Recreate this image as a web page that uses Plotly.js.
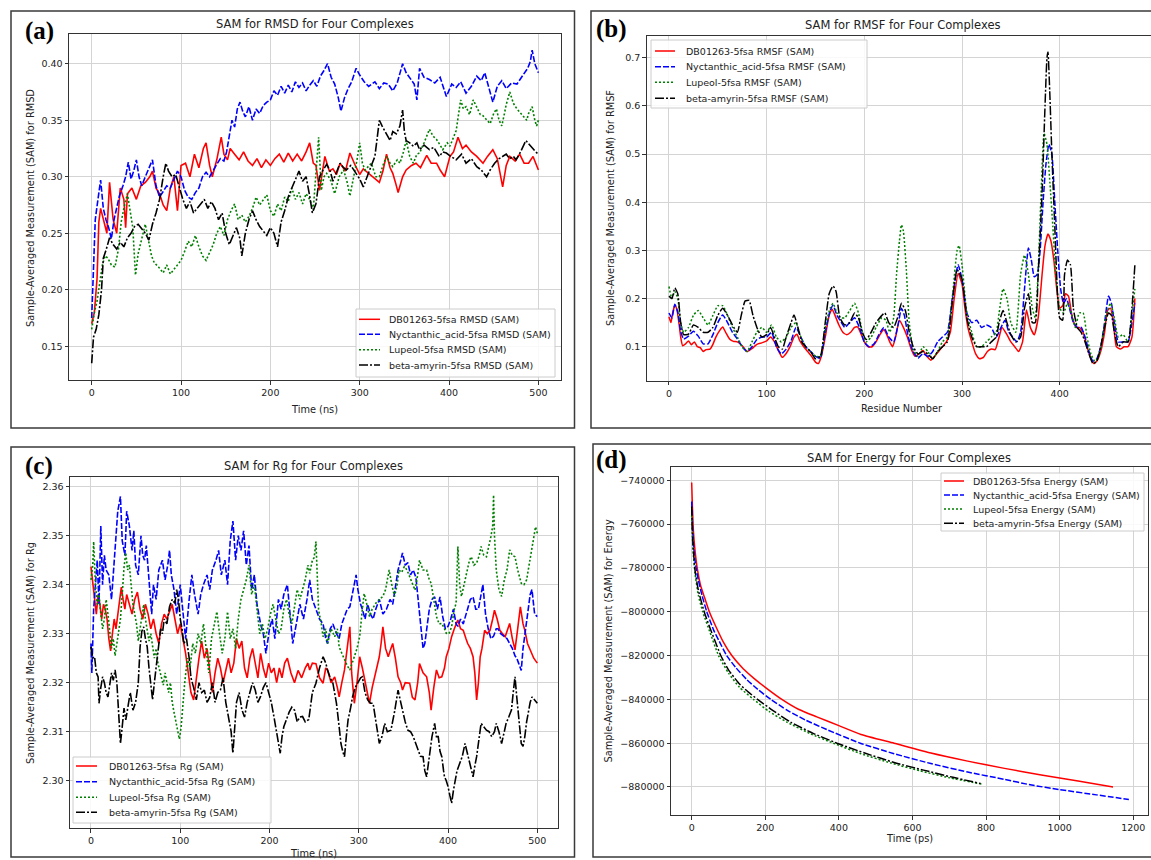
<!DOCTYPE html>
<html><head><meta charset="utf-8">
<script src="https://cdn.plot.ly/plotly-3.0.1.min.js"></script>
<style>html,body{margin:0;padding:0;background:#fff}#chart{width:1151px;height:860px}</style>
</head><body><div id="chart"></div>
<script>
// ---------------- DATA ----------------
const seriesNames = ['DB01263-5fsa', 'Nyctanthic_acid-5fsa', 'Lupeol-5fsa', 'beta-amyrin-5fsa'];

// (a) RMSD vs time (ns)
const rmsdDB01263 = [[0,0.170],[3,0.180],[6,0.210],[8,0.260],[10,0.272],[13,0.262],[17,0.250],[20,0.295],[24,0.262],[28,0.250],[32,0.290],[36,0.280],[38,0.255],[40,0.285],[45,0.290],[50,0.280],[55,0.292],[60,0.295],[65,0.300],[68,0.305],[72,0.290],[76,0.285],[80,0.275],[84,0.270],[88,0.290],[92,0.300],[96,0.270],[100,0.310],[105,0.312],[110,0.300],[115,0.320],[120,0.308],[125,0.325],[128,0.330],[132,0.310],[135,0.300],[140,0.315],[145,0.335],[148,0.320],[152,0.315],[155,0.325],[160,0.320],[165,0.315],[170,0.322],[175,0.314],[180,0.310],[185,0.316],[190,0.308],[195,0.315],[200,0.310],[205,0.316],[210,0.320],[215,0.313],[220,0.321],[225,0.314],[230,0.320],[235,0.314],[240,0.322],[244,0.330],[248,0.312],[251,0.310],[255,0.288],[261,0.318],[266,0.305],[270,0.307],[274,0.302],[278,0.312],[284,0.305],[289,0.321],[295,0.310],[300,0.302],[304,0.307],[310,0.303],[315,0.300],[322,0.295],[326,0.305],[330,0.320],[334,0.308],[337,0.303],[340,0.295],[343,0.286],[348,0.300],[352,0.306],[358,0.310],[363,0.312],[368,0.308],[375,0.319],[380,0.312],[386,0.312],[390,0.306],[395,0.300],[401,0.318],[405,0.322],[410,0.335],[415,0.325],[419,0.328],[425,0.322],[431,0.318],[438,0.312],[443,0.318],[449,0.324],[454,0.316],[460,0.291],[464,0.310],[468,0.318],[474,0.314],[479,0.320],[484,0.312],[489,0.312],[494,0.318],[500,0.306]];
const rmsdNyctanthic = [[0,0.175],[2,0.220],[4,0.262],[7,0.280],[10,0.297],[13,0.272],[16,0.262],[19,0.255],[22,0.245],[25,0.262],[28,0.272],[31,0.283],[35,0.292],[38,0.300],[41,0.313],[44,0.298],[47,0.305],[50,0.315],[53,0.300],[56,0.292],[60,0.300],[64,0.308],[68,0.315],[72,0.292],[76,0.282],[80,0.287],[84,0.292],[88,0.290],[92,0.297],[96,0.305],[100,0.300],[104,0.288],[108,0.282],[112,0.280],[116,0.286],[120,0.290],[124,0.300],[128,0.304],[132,0.300],[136,0.306],[140,0.311],[144,0.316],[148,0.314],[151,0.322],[154,0.337],[157,0.350],[160,0.344],[163,0.360],[166,0.366],[169,0.358],[172,0.353],[176,0.362],[180,0.350],[184,0.360],[188,0.356],[192,0.363],[196,0.366],[200,0.368],[204,0.376],[208,0.372],[212,0.380],[216,0.374],[220,0.381],[224,0.375],[228,0.384],[232,0.379],[236,0.383],[240,0.376],[244,0.381],[248,0.385],[252,0.380],[256,0.389],[260,0.394],[264,0.400],[268,0.388],[272,0.382],[276,0.370],[279,0.358],[283,0.370],[287,0.378],[291,0.384],[296,0.396],[300,0.390],[305,0.384],[310,0.380],[317,0.384],[322,0.378],[327,0.383],[332,0.382],[337,0.376],[342,0.383],[348,0.400],[352,0.392],[356,0.388],[361,0.382],[364,0.368],[367,0.396],[372,0.388],[378,0.386],[384,0.383],[390,0.388],[397,0.371],[403,0.382],[408,0.379],[413,0.384],[419,0.374],[425,0.380],[431,0.389],[436,0.385],[440,0.392],[445,0.378],[449,0.366],[454,0.380],[459,0.385],[464,0.378],[470,0.383],[476,0.382],[483,0.390],[488,0.396],[491,0.402],[493,0.412],[496,0.400],[500,0.392]];
const rmsdLupeol = [[0,0.165],[3,0.180],[6,0.190],[9,0.205],[12,0.222],[15,0.230],[18,0.228],[22,0.222],[26,0.220],[30,0.236],[33,0.260],[36,0.272],[40,0.285],[43,0.270],[46,0.255],[49,0.213],[52,0.232],[56,0.245],[60,0.258],[63,0.246],[67,0.230],[70,0.224],[75,0.220],[80,0.215],[84,0.222],[88,0.214],[92,0.218],[96,0.222],[100,0.226],[104,0.234],[108,0.243],[112,0.238],[116,0.248],[120,0.238],[124,0.230],[128,0.226],[132,0.233],[136,0.240],[140,0.250],[144,0.256],[148,0.248],[152,0.262],[156,0.270],[160,0.276],[164,0.262],[168,0.266],[172,0.260],[176,0.265],[180,0.272],[184,0.282],[188,0.275],[192,0.280],[196,0.284],[200,0.270],[204,0.265],[208,0.276],[212,0.270],[216,0.282],[220,0.278],[224,0.290],[228,0.280],[232,0.286],[236,0.276],[240,0.285],[244,0.280],[248,0.271],[251,0.305],[254,0.335],[257,0.288],[260,0.300],[263,0.303],[268,0.296],[272,0.285],[277,0.300],[282,0.306],[286,0.295],[289,0.283],[293,0.298],[297,0.315],[300,0.330],[303,0.312],[306,0.306],[310,0.310],[313,0.312],[318,0.300],[322,0.300],[326,0.310],[330,0.318],[334,0.312],[337,0.309],[342,0.315],[345,0.312],[349,0.322],[352,0.332],[356,0.318],[360,0.312],[364,0.320],[367,0.321],[372,0.330],[378,0.342],[382,0.336],[386,0.333],[390,0.328],[393,0.324],[398,0.330],[401,0.327],[405,0.335],[408,0.341],[413,0.368],[416,0.360],[419,0.362],[423,0.355],[427,0.368],[432,0.360],[435,0.355],[438,0.354],[442,0.350],[446,0.347],[450,0.356],[453,0.360],[456,0.350],[459,0.345],[462,0.356],[464,0.364],[468,0.375],[472,0.365],[476,0.360],[480,0.356],[483,0.353],[487,0.350],[489,0.356],[493,0.362],[496,0.350],[498,0.345],[500,0.350]];
const rmsdBetaAmyrin = [[0,0.135],[2,0.158],[5,0.165],[8,0.178],[11,0.200],[13,0.228],[16,0.235],[20,0.246],[24,0.240],[28,0.236],[32,0.242],[36,0.238],[40,0.246],[44,0.250],[48,0.256],[52,0.258],[56,0.254],[60,0.250],[64,0.244],[68,0.258],[72,0.268],[76,0.280],[80,0.300],[83,0.312],[86,0.305],[90,0.300],[94,0.302],[98,0.290],[102,0.280],[106,0.272],[110,0.278],[114,0.268],[118,0.272],[122,0.276],[126,0.280],[130,0.272],[134,0.278],[138,0.272],[142,0.262],[146,0.268],[150,0.250],[154,0.240],[158,0.248],[162,0.255],[166,0.245],[168,0.230],[172,0.250],[176,0.262],[180,0.270],[184,0.262],[188,0.256],[192,0.252],[196,0.248],[200,0.255],[204,0.250],[208,0.238],[212,0.260],[216,0.270],[220,0.282],[224,0.290],[228,0.298],[232,0.305],[236,0.296],[240,0.300],[244,0.283],[247,0.268],[251,0.276],[255,0.300],[259,0.306],[263,0.311],[267,0.305],[270,0.296],[274,0.304],[278,0.312],[282,0.308],[285,0.306],[290,0.310],[296,0.303],[300,0.298],[304,0.291],[308,0.300],[311,0.306],[314,0.312],[317,0.318],[320,0.340],[322,0.350],[325,0.345],[328,0.341],[331,0.336],[334,0.332],[337,0.340],[341,0.338],[345,0.345],[348,0.359],[350,0.340],[352,0.332],[356,0.330],[360,0.327],[364,0.330],[367,0.324],[372,0.328],[378,0.324],[383,0.326],[389,0.318],[393,0.322],[397,0.321],[402,0.318],[408,0.315],[414,0.320],[419,0.312],[425,0.316],[431,0.309],[436,0.306],[442,0.300],[446,0.306],[451,0.312],[456,0.316],[460,0.318],[464,0.320],[468,0.316],[472,0.318],[475,0.315],[480,0.322],[486,0.332],[490,0.328],[494,0.325],[497,0.322],[500,0.320]];

// (b) RMSF vs residue number
const rmsfDB01263 = [[0,0.162],[2,0.150],[4,0.172],[6,0.186],[8,0.178],[10,0.152],[12,0.120],[14,0.102],[17,0.106],[20,0.112],[23,0.104],[26,0.110],[29,0.100],[32,0.098],[35,0.090],[38,0.094],[42,0.095],[45,0.105],[48,0.120],[52,0.134],[55,0.141],[58,0.130],[62,0.116],[66,0.111],[70,0.110],[75,0.102],[80,0.090],[85,0.096],[90,0.105],[95,0.108],[100,0.112],[104,0.120],[108,0.110],[112,0.092],[116,0.078],[120,0.086],[124,0.100],[128,0.120],[131,0.126],[134,0.112],[138,0.100],[142,0.090],[146,0.080],[150,0.068],[153,0.065],[156,0.080],[160,0.120],[164,0.165],[167,0.178],[170,0.165],[174,0.145],[178,0.130],[182,0.125],[186,0.130],[190,0.140],[193,0.141],[197,0.125],[200,0.110],[204,0.100],[208,0.100],[212,0.110],[216,0.125],[220,0.135],[223,0.125],[226,0.110],[229,0.100],[232,0.120],[236,0.155],[240,0.140],[244,0.120],[248,0.095],[252,0.080],[256,0.085],[260,0.092],[264,0.080],[268,0.072],[272,0.080],[276,0.090],[280,0.100],[284,0.110],[288,0.130],[292,0.200],[296,0.252],[300,0.230],[303,0.180],[306,0.140],[310,0.110],[314,0.085],[318,0.075],[322,0.078],[326,0.090],[330,0.095],[334,0.094],[338,0.120],[341,0.140],[346,0.125],[350,0.110],[354,0.100],[358,0.090],[362,0.110],[366,0.176],[370,0.140],[374,0.125],[378,0.160],[382,0.250],[385,0.310],[388,0.334],[391,0.320],[394,0.280],[397,0.220],[400,0.180],[403,0.185],[406,0.210],[409,0.205],[413,0.160],[417,0.140],[420,0.140],[424,0.130],[428,0.100],[432,0.075],[435,0.065],[438,0.070],[442,0.090],[446,0.130],[449,0.175],[452,0.180],[455,0.150],[458,0.100],[462,0.095],[466,0.100],[470,0.100],[474,0.120],[477,0.200]];
const rmsfNyctanthic = [[0,0.170],[3,0.160],[6,0.188],[9,0.172],[12,0.132],[15,0.116],[20,0.122],[25,0.132],[30,0.122],[35,0.106],[40,0.106],[45,0.125],[50,0.150],[55,0.166],[60,0.150],[65,0.130],[70,0.116],[75,0.100],[80,0.090],[85,0.100],[90,0.115],[95,0.120],[100,0.120],[105,0.130],[110,0.100],[115,0.085],[120,0.095],[125,0.112],[130,0.140],[135,0.120],[140,0.100],[145,0.090],[150,0.080],[155,0.076],[160,0.130],[165,0.175],[168,0.186],[172,0.165],[176,0.152],[180,0.140],[185,0.150],[190,0.160],[195,0.140],[200,0.110],[205,0.100],[210,0.106],[215,0.125],[220,0.140],[225,0.120],[230,0.110],[235,0.150],[238,0.180],[241,0.165],[245,0.120],[250,0.090],[255,0.076],[260,0.086],[265,0.080],[270,0.090],[275,0.110],[280,0.120],[285,0.130],[290,0.200],[296,0.270],[300,0.240],[305,0.170],[310,0.150],[315,0.155],[320,0.140],[325,0.145],[330,0.140],[335,0.120],[340,0.140],[344,0.155],[348,0.130],[352,0.120],[356,0.110],[360,0.130],[364,0.220],[368,0.305],[371,0.280],[374,0.245],[377,0.250],[380,0.300],[383,0.400],[386,0.480],[389,0.520],[392,0.500],[395,0.400],[398,0.300],[401,0.220],[404,0.190],[407,0.200],[410,0.180],[414,0.150],[418,0.140],[422,0.140],[426,0.120],[430,0.090],[434,0.070],[438,0.075],[442,0.100],[446,0.150],[450,0.205],[453,0.190],[456,0.150],[460,0.110],[465,0.110],[470,0.110],[474,0.150],[477,0.190]];
const rmsfLupeol = [[0,0.225],[3,0.200],[6,0.215],[9,0.200],[12,0.150],[15,0.130],[20,0.140],[25,0.165],[30,0.175],[35,0.160],[40,0.145],[45,0.165],[50,0.185],[55,0.185],[60,0.165],[65,0.140],[70,0.120],[75,0.100],[80,0.090],[85,0.110],[90,0.130],[95,0.140],[100,0.130],[105,0.145],[110,0.120],[115,0.110],[120,0.120],[125,0.140],[130,0.150],[135,0.120],[140,0.100],[145,0.090],[150,0.080],[155,0.080],[160,0.140],[165,0.180],[168,0.190],[172,0.170],[176,0.160],[180,0.160],[185,0.175],[190,0.190],[194,0.170],[198,0.130],[202,0.110],[207,0.120],[212,0.140],[218,0.160],[222,0.155],[226,0.130],[230,0.160],[233,0.250],[236,0.320],[238,0.353],[240,0.340],[243,0.260],[246,0.150],[250,0.095],[255,0.080],[260,0.100],[265,0.090],[270,0.075],[275,0.090],[280,0.110],[285,0.120],[290,0.200],[295,0.300],[297,0.310],[300,0.270],[305,0.170],[310,0.130],[315,0.100],[320,0.100],[325,0.110],[330,0.120],[335,0.130],[338,0.170],[342,0.220],[346,0.200],[350,0.150],[355,0.130],[360,0.250],[364,0.290],[368,0.250],[372,0.180],[375,0.160],[378,0.260],[381,0.420],[384,0.543],[387,0.520],[390,0.440],[393,0.350],[396,0.250],[400,0.180],[404,0.170],[408,0.190],[412,0.170],[416,0.140],[420,0.170],[424,0.170],[428,0.120],[432,0.085],[436,0.070],[440,0.080],[444,0.120],[448,0.170],[452,0.190],[456,0.160],[460,0.120],[465,0.125],[470,0.110],[474,0.170],[477,0.220]];
const rmsfBetaAmyrin = [[0,0.205],[3,0.200],[6,0.222],[9,0.210],[12,0.150],[15,0.125],[20,0.126],[25,0.145],[30,0.140],[35,0.130],[40,0.130],[45,0.140],[50,0.165],[55,0.180],[60,0.165],[65,0.145],[70,0.130],[74,0.165],[78,0.195],[82,0.196],[86,0.165],[90,0.140],[95,0.120],[100,0.125],[104,0.140],[108,0.120],[112,0.100],[116,0.095],[120,0.120],[125,0.150],[128,0.166],[132,0.140],[136,0.110],[140,0.100],[145,0.090],[150,0.075],[155,0.080],[160,0.150],[164,0.210],[168,0.226],[171,0.215],[175,0.160],[180,0.145],[185,0.150],[190,0.170],[194,0.160],[198,0.130],[202,0.115],[207,0.130],[212,0.150],[218,0.165],[221,0.170],[225,0.150],[230,0.140],[234,0.160],[238,0.190],[242,0.175],[246,0.130],[250,0.100],[255,0.085],[260,0.090],[265,0.085],[270,0.075],[275,0.090],[280,0.100],[285,0.110],[290,0.190],[295,0.260],[300,0.240],[305,0.160],[310,0.120],[315,0.100],[320,0.100],[325,0.100],[330,0.110],[335,0.120],[338,0.150],[342,0.175],[346,0.150],[350,0.125],[355,0.110],[360,0.120],[364,0.180],[368,0.210],[372,0.150],[375,0.150],[378,0.250],[382,0.420],[385,0.600],[387,0.700],[388,0.712],[390,0.620],[392,0.500],[395,0.350],[398,0.200],[400,0.160],[403,0.155],[405,0.250],[408,0.280],[411,0.270],[414,0.180],[418,0.140],[422,0.130],[426,0.110],[430,0.085],[434,0.065],[438,0.070],[442,0.100],[446,0.140],[450,0.170],[453,0.165],[456,0.130],[460,0.100],[465,0.110],[470,0.110],[474,0.180],[477,0.270]];

// (c) Rg vs time (ns)
const rgDB01263 = [[0,2.3437],[2,2.340],[4,2.3375],[6,2.334],[8,2.338],[10,2.336],[12,2.333],[14,2.336],[16,2.335],[18,2.333],[20,2.329],[22,2.3265],[24,2.330],[26,2.333],[28,2.331],[30,2.334],[32,2.337],[34,2.3395],[36,2.337],[38,2.335],[40,2.338],[43,2.336],[46,2.334],[49,2.337],[52,2.3385],[55,2.335],[58,2.333],[61,2.336],[64,2.334],[67,2.331],[70,2.333],[73,2.330],[76,2.328],[79,2.332],[82,2.334],[85,2.333],[88,2.3345],[91,2.336],[94,2.333],[97,2.330],[100,2.332],[103,2.329],[106,2.326],[109,2.322],[112,2.318],[115,2.3165],[118,2.321],[121,2.325],[124,2.3285],[127,2.325],[130,2.327],[133,2.322],[136,2.318],[139,2.322],[142,2.325],[145,2.323],[148,2.320],[151,2.3225],[154,2.325],[157,2.322],[160,2.324],[163,2.329],[166,2.327],[169,2.3285],[172,2.323],[175,2.321],[178,2.325],[181,2.327],[184,2.324],[187,2.321],[190,2.326],[193,2.323],[196,2.321],[199,2.324],[202,2.322],[205,2.323],[208,2.320],[211,2.323],[214,2.321],[217,2.324],[220,2.325],[224,2.322],[228,2.320],[232,2.3225],[236,2.321],[240,2.323],[243,2.324],[245,2.3226],[248,2.324],[252,2.3239],[256,2.321],[260,2.3199],[263,2.323],[265,2.3226],[269,2.320],[273,2.3212],[276,2.319],[278,2.3171],[281,2.320],[284,2.3226],[287,2.327],[290,2.3314],[292,2.322],[295,2.3158],[298,2.320],[301,2.3253],[304,2.323],[306,2.3212],[309,2.318],[312,2.3158],[315,2.319],[318,2.3212],[321,2.324],[323,2.3253],[325,2.328],[327,2.3314],[330,2.327],[333,2.3253],[336,2.327],[338,2.328],[341,2.325],[344,2.3212],[347,2.320],[349,2.3185],[352,2.320],[357,2.3199],[360,2.317],[363,2.3165],[366,2.320],[368,2.3239],[372,2.322],[376,2.3212],[379,2.318],[381,2.3144],[384,2.319],[387,2.3226],[390,2.321],[393,2.3212],[396,2.323],[398,2.3253],[401,2.327],[404,2.3294],[407,2.331],[411,2.3328],[414,2.331],[417,2.3307],[420,2.329],[422,2.328],[425,2.327],[428,2.3253],[430,2.322],[432,2.3165],[434,2.320],[436,2.3253],[438,2.327],[441,2.3307],[444,2.330],[447,2.3307],[450,2.333],[452,2.3348],[455,2.333],[458,2.3307],[461,2.330],[464,2.3294],[467,2.331],[469,2.3321],[472,2.329],[475,2.3267],[478,2.331],[481,2.3355],[484,2.332],[486,2.3307],[489,2.328],[492,2.3267],[496,2.325],[500,2.324]];
const rgNyctanthic = [[0,2.328],[1,2.322],[3,2.335],[5,2.341],[7,2.345],[9,2.336],[11,2.352],[13,2.340],[15,2.346],[17,2.343],[20,2.342],[23,2.337],[25,2.342],[28,2.350],[30,2.355],[33,2.358],[35,2.349],[38,2.346],[40,2.355],[43,2.352],[46,2.347],[48,2.351],[50,2.344],[53,2.342],[56,2.350],[58,2.346],[60,2.345],[62,2.348],[65,2.340],[68,2.334],[70,2.340],[73,2.337],[76,2.343],[80,2.345],[83,2.341],[86,2.344],[88,2.347],[90,2.342],[93,2.339],[96,2.334],[100,2.340],[103,2.334],[106,2.329],[110,2.337],[113,2.342],[116,2.338],[120,2.334],[123,2.338],[126,2.340],[130,2.342],[133,2.339],[136,2.343],[140,2.345],[143,2.347],[146,2.342],[150,2.345],[153,2.340],[156,2.349],[159,2.353],[162,2.345],[165,2.350],[168,2.347],[171,2.351],[174,2.344],[177,2.348],[180,2.339],[183,2.342],[186,2.336],[190,2.332],[193,2.330],[196,2.326],[200,2.331],[203,2.333],[206,2.329],[210,2.337],[213,2.335],[216,2.338],[220,2.340],[223,2.334],[226,2.328],[230,2.332],[234,2.336],[238,2.333],[242,2.337],[245,2.341],[248,2.337],[252,2.335],[256,2.333],[260,2.332],[263,2.329],[265,2.328],[268,2.331],[271,2.332],[275,2.330],[278,2.329],[281,2.332],[284,2.3335],[287,2.335],[290,2.3355],[293,2.338],[295,2.340],[297,2.342],[299,2.339],[302,2.336],[304,2.335],[307,2.333],[310,2.336],[313,2.334],[316,2.333],[319,2.335],[323,2.337],[327,2.334],[331,2.335],[335,2.337],[338,2.336],[341,2.340],[344,2.343],[347,2.345],[349,2.3465],[352,2.344],[355,2.3445],[358,2.342],[361,2.343],[364,2.3415],[367,2.336],[370,2.3315],[372,2.327],[374,2.328],[377,2.333],[379,2.335],[382,2.337],[385,2.3375],[388,2.335],[391,2.3375],[394,2.3335],[397,2.331],[400,2.3315],[403,2.333],[406,2.335],[409,2.332],[411,2.3315],[414,2.333],[417,2.332],[420,2.334],[422,2.335],[425,2.337],[428,2.3375],[431,2.335],[434,2.335],[437,2.338],[439,2.340],[442,2.334],[445,2.331],[448,2.329],[451,2.3295],[454,2.331],[456,2.331],[459,2.330],[462,2.3295],[466,2.329],[469,2.328],[472,2.327],[475,2.3255],[477,2.325],[479,2.324],[482,2.3225],[484,2.327],[487,2.331],[490,2.335],[492,2.338],[494,2.339],[497,2.334],[500,2.3335]];
const rgLupeol = [[0,2.341],[2,2.344],[3,2.3488],[5,2.340],[7,2.336],[9,2.338],[11,2.334],[13,2.331],[15,2.333],[17,2.337],[19,2.334],[21,2.330],[23,2.327],[25,2.329],[27,2.3255],[29,2.328],[31,2.331],[33,2.333],[35,2.338],[37,2.3435],[39,2.3465],[41,2.343],[43,2.344],[45,2.340],[47,2.336],[49,2.334],[51,2.332],[53,2.3285],[55,2.331],[57,2.334],[59,2.336],[61,2.333],[63,2.331],[65,2.3285],[67,2.330],[69,2.327],[71,2.325],[73,2.327],[75,2.324],[77,2.3225],[79,2.321],[81,2.3195],[83,2.322],[85,2.320],[87,2.318],[89,2.320],[91,2.316],[93,2.314],[95,2.312],[97,2.310],[99,2.3085],[101,2.311],[103,2.316],[105,2.320],[108,2.325],[111,2.323],[114,2.328],[117,2.326],[120,2.330],[123,2.328],[126,2.332],[129,2.327],[132,2.322],[135,2.329],[138,2.332],[141,2.3345],[144,2.330],[147,2.326],[150,2.329],[153,2.3345],[156,2.329],[159,2.331],[162,2.327],[165,2.333],[168,2.337],[171,2.339],[174,2.341],[177,2.344],[180,2.338],[183,2.340],[186,2.335],[189,2.330],[192,2.332],[195,2.329],[198,2.331],[201,2.334],[204,2.336],[207,2.333],[210,2.330],[213,2.331],[216,2.335],[219,2.337],[222,2.334],[225,2.332],[228,2.336],[231,2.339],[234,2.337],[237,2.339],[240,2.341],[243,2.344],[245,2.3423],[248,2.345],[250,2.3455],[252,2.3488],[255,2.3348],[258,2.332],[260,2.3294],[263,2.331],[265,2.328],[269,2.331],[273,2.3294],[276,2.331],[278,2.3273],[281,2.326],[284,2.3246],[287,2.3235],[290,2.3226],[293,2.3245],[295,2.3253],[298,2.327],[301,2.3294],[304,2.335],[306,2.3382],[309,2.336],[312,2.3335],[315,2.335],[319,2.3362],[323,2.337],[327,2.3376],[330,2.339],[334,2.343],[337,2.340],[340,2.3376],[343,2.340],[345,2.343],[348,2.3425],[351,2.3437],[354,2.343],[357,2.3416],[360,2.340],[363,2.3389],[366,2.342],[368,2.345],[372,2.343],[376,2.343],[379,2.341],[381,2.3403],[384,2.337],[387,2.3335],[390,2.332],[393,2.3321],[396,2.331],[398,2.3301],[401,2.330],[404,2.3314],[407,2.335],[409,2.3362],[411,2.3478],[413,2.340],[415,2.3376],[418,2.340],[421,2.343],[424,2.345],[426,2.3457],[429,2.344],[432,2.3444],[435,2.346],[437,2.3478],[440,2.346],[443,2.3457],[446,2.348],[448,2.3498],[450,2.352],[451,2.3583],[452,2.350],[454,2.343],[457,2.339],[460,2.3376],[463,2.341],[466,2.343],[469,2.3471],[472,2.346],[475,2.3457],[478,2.343],[482,2.3403],[485,2.340],[488,2.341],[491,2.3444],[493,2.3465],[495,2.3484],[498,2.3518],[500,2.3505]];
const rgBetaAmyrin = [[0,2.3273],[2,2.325],[4,2.3253],[6,2.322],[8,2.3212],[9,2.3158],[11,2.319],[13,2.3212],[15,2.320],[17,2.318],[19,2.3171],[21,2.320],[23,2.322],[25,2.3205],[27,2.3226],[29,2.320],[31,2.314],[33,2.3076],[35,2.311],[37,2.3148],[39,2.3124],[41,2.315],[44,2.318],[47,2.3144],[50,2.316],[53,2.320],[55,2.3273],[57,2.3305],[59,2.3314],[61,2.329],[63,2.3273],[65,2.323],[67,2.319],[69,2.3165],[71,2.320],[74,2.3253],[76,2.328],[78,2.331],[80,2.330],[82,2.333],[85,2.332],[88,2.3355],[91,2.337],[94,2.3362],[96,2.339],[98,2.337],[100,2.333],[102,2.331],[104,2.328],[107,2.329],[110,2.325],[112,2.321],[115,2.319],[118,2.3165],[121,2.320],[124,2.318],[127,2.3185],[130,2.316],[133,2.317],[136,2.320],[139,2.316],[142,2.318],[145,2.3185],[148,2.321],[151,2.316],[154,2.313],[157,2.310],[159,2.3056],[161,2.311],[163,2.316],[166,2.318],[169,2.3145],[172,2.313],[175,2.316],[178,2.318],[181,2.320],[184,2.3185],[187,2.316],[190,2.3172],[193,2.319],[196,2.320],[199,2.318],[202,2.316],[205,2.313],[208,2.310],[210,2.308],[212,2.3056],[214,2.309],[216,2.311],[219,2.3125],[222,2.314],[225,2.315],[228,2.3144],[231,2.312],[234,2.313],[237,2.3131],[240,2.312],[244,2.3125],[248,2.318],[252,2.3199],[256,2.323],[260,2.3253],[263,2.324],[265,2.3226],[268,2.321],[271,2.3199],[273,2.318],[275,2.3158],[278,2.311],[280,2.3076],[282,2.306],[284,2.3049],[286,2.309],[288,2.3124],[291,2.315],[293,2.3171],[296,2.319],[299,2.3199],[302,2.321],[304,2.3212],[307,2.318],[310,2.3165],[313,2.3158],[316,2.3158],[319,2.3124],[321,2.310],[323,2.3076],[326,2.309],[329,2.3117],[332,2.310],[336,2.3103],[340,2.314],[344,2.3185],[347,2.316],[349,2.3144],[352,2.312],[355,2.3103],[358,2.310],[361,2.309],[364,2.3075],[366,2.3069],[369,2.305],[372,2.3049],[374,2.302],[376,2.3008],[378,2.303],[379,2.3049],[382,2.309],[385,2.3117],[387,2.309],[389,2.309],[391,2.306],[393,2.3049],[395,2.302],[396,2.3008],[398,2.300],[400,2.2988],[402,2.297],[404,2.2954],[406,2.298],[408,2.3001],[410,2.302],[413,2.3035],[416,2.305],[419,2.3076],[421,2.306],[424,2.3035],[426,2.302],[428,2.3008],[430,2.303],[432,2.3049],[435,2.309],[437,2.3117],[440,2.311],[443,2.3103],[446,2.310],[449,2.309],[452,2.310],[454,2.3117],[457,2.310],[460,2.3076],[463,2.310],[465,2.3117],[468,2.313],[471,2.3144],[473,2.318],[475,2.3212],[477,2.317],[479,2.3131],[481,2.309],[482,2.3076],[484,2.307],[486,2.309],[488,2.312],[490,2.3144],[492,2.316],[494,2.3171],[497,2.3165],[500,2.3158]];

// (d) Energy vs time (ps)
const energyDB01263 = [[0,-741000],[2,-752000],[4.5,-762700],[9,-771800],[15,-780000],[25,-788500],[35,-793500],[48,-800000],[65,-806500],[85,-813500],[109,-820000],[140,-826000],[170,-830500],[200,-834500],[245,-840000],[290,-844500],[340,-848000],[400,-852000],[460,-856000],[550,-860000],[650,-864500],[750,-868200],[850,-871500],[950,-874500],[1050,-877300],[1145,-880000]];
const energyNyctanthic = [[0,-749700],[2,-759600],[4.5,-768800],[9,-776400],[12,-780000],[18,-785500],[28,-792500],[41,-800000],[60,-808500],[75,-813500],[95,-820000],[120,-825500],[150,-831000],[180,-835500],[215,-840000],[260,-845000],[310,-849500],[370,-854000],[458,-860000],[550,-864800],[650,-869300],[750,-873200],[850,-876500],[920,-879000],[1000,-881200],[1100,-883600],[1188,-885700]];
const energyLupeol = [[0,-756000],[2,-766000],[4.5,-774000],[9,-782500],[18,-792400],[30,-800000],[50,-809500],[73,-820000],[100,-828000],[130,-834500],[168,-840000],[210,-845500],[260,-850500],[320,-855500],[385,-860000],[460,-864800],[540,-869000],[620,-872600],[700,-875800],[789,-878700]];
const energyBetaAmyrin = [[0,-752000],[2,-764200],[4.5,-771800],[9,-780900],[18,-790100],[34,-800000],[50,-807500],[65,-814000],[79,-820000],[100,-826500],[130,-833000],[155,-836800],[179,-840000],[220,-845000],[270,-850500],[330,-855500],[395,-860000],[470,-864500],[550,-868800],[630,-872300],[710,-875600],[785,-878400]];

// ---------------- STYLE / LAYOUT ----------------
const W = 1151, H = 860;
const FONT = 'DejaVu Sans';
const styles = [
  {color:'#ff0000', dash:'solid'},
  {color:'#0000ff', dash:'6px,2px'},
  {color:'#008000', dash:'2px,2px'},
  {color:'#000000', dash:'9px,2px,2px,2px'}
];
const px = x => x / W, py = y => 1 - y / H;

const panels = [
  {data:[rmsdDB01263, rmsdNyctanthic, rmsdLupeol, rmsdBetaAmyrin], kind:'RMSD',
   dom:{x0:69,x1:561,y0:34,y1:380}, xr:[-25.4,525.3], yr:[0.1202,0.4263], xt:[0,100], yt:[0.15,0.05], yfmt:'.2f',
   title:'SAM for RMSD for Four Complexes', tpos:[314.5,24], xtitle:'Time (ns)', xtpos:[314.5,409], ytitle:'Sample-Averaged Measurement (SAM) for RMSD', ytpos:[31,208],
   label:'(a)', lpos:[23,31],
   leg:{x0:356,x1:555,y0:309,y1:377, rows:[319.3,334.3,349.7,365], s0:359, s1:380, tx:387}, yMirror:true, width:1.6},
  {data:[rmsfDB01263, rmsfNyctanthic, rmsfLupeol, rmsfBetaAmyrin], kind:'RMSF',
   dom:{x0:646.7,x1:1151,y0:35.7,y1:380.7}, xr:[-22.8,493.5], yr:[0.0294,0.7457], xt:[0,100], yt:[0.1,0.1], yfmt:'.1f',
   title:'SAM for RMSF for Four Complexes', tpos:[902,25], xtitle:'Residue Number', xtpos:[902,408], ytitle:'Sample-Averaged Measurement (SAM) for RMSF', ytpos:[611,208],
   label:'(b)', lpos:[594,29],
   leg:{x0:651,x1:867,y0:40,y1:108, rows:[51,66.7,82.3,98.3], s0:655, s1:675, tx:684}, yMirror:false, spline:0.5, width:1.5},
  {data:[rgDB01263, rgNyctanthic, rgLupeol, rgBetaAmyrin], kind:'Rg',
   dom:{x0:70,x1:558.3,y0:476.7,y1:828.3}, xr:[-23.5,523.5], yr:[2.29029,2.36204], xt:[0,100], yt:[2.30,0.01], yfmt:'.2f',
   title:'SAM for Rg for Four Complexes', tpos:[313,466], xtitle:'Time (ns)', xtpos:[313,853], ytitle:'Sample-Averaged Measurement (SAM) for Rg', ytpos:[30,653],
   label:'(c)', lpos:[23,466],
   leg:{x0:73,x1:271,y0:757,y1:823, rows:[766,781.7,797.3,812.3], s0:76, s1:97, tx:107}, yMirror:true, width:1.6},
  {data:[energyDB01263, energyNyctanthic, energyLupeol, energyBetaAmyrin], kind:'Energy',
   dom:{x0:671,x1:1148.3,y0:467.3,y1:815}, xr:[-56.2,1240.8], yr:[-892785,-734064], xt:[0,200], yt:[-880000,20000], yfmt:'d',
   title:'SAM for Energy for Four Complexes', tpos:[909.3,458.3], xtitle:'Time (ps)', xtpos:[909.3,838.3], ytitle:'Sample-Averaged Measurement (SAM) for Energy', ytpos:[607.5,641],
   label:'(d)', lpos:[594,460],
   leg:{x0:941,x1:1144,y0:473,y1:531, rows:[481,495,509,523.3], s0:944, s1:964, tx:971}, yMirror:true, spline:0.5, width:1.5}
];

// outer frames of the four sub-figures
const frames = [[11,11,574.5,428],[591,11,1160,428],[11,447,574.5,857],[593,444,1160,857]];

const traces = [];
const layout = {
  width: W, height: H, margin:{l:0,r:0,t:0,b:0}, paper_bgcolor:'#fff', plot_bgcolor:'#fff',
  showlegend:false, shapes:[], annotations:[], font:{family:FONT, color:'#222'}
};

function ann(text, x, y, extra) {
  return Object.assign({text, x:px(x), y:py(y), xref:'paper', yref:'paper', showarrow:false,
    xanchor:'center', yanchor:'middle', font:{family:FONT, size:11.5, color:'#222'}}, extra || {});
}

frames.forEach(f => layout.shapes.push({type:'rect', xref:'paper', yref:'paper', x0:px(f[0]), x1:px(f[2]), y0:py(f[1]), y1:py(f[3]),
  line:{color:'#3a3a3a', width:1.5}, fillcolor:'rgba(0,0,0,0)', layer:'below'}));

panels.forEach((p, k) => {
  const n = k === 0 ? '' : String(k + 1);
  const axCommon = {showline:true, linecolor:'#333', linewidth:1, showgrid:true, gridcolor:'#d4d4d4', gridwidth:1,
    zeroline:false, ticks:'outside', ticklen:3.5, tickwidth:1, tickcolor:'#333',
    tickfont:{family:FONT, size:9.5, color:'#222'}, autorange:false, fixedrange:true};
  layout['xaxis' + n] = Object.assign({}, axCommon, {
    domain:[px(p.dom.x0), px(p.dom.x1)], range:p.xr, anchor:'y' + n, mirror:true,
    tick0:p.xt[0], dtick:p.xt[1], tickmode:'linear'});
  layout['yaxis' + n] = Object.assign({}, axCommon, {
    domain:[py(p.dom.y1), py(p.dom.y0)], range:p.yr, anchor:'x' + n, mirror:p.yMirror,
    tick0:p.yt[0], dtick:p.yt[1], tickmode:'linear', tickformat:p.yfmt});

  p.data.forEach((series, i) => {
    traces.push({
      x: series.map(d => d[0]), y: series.map(d => d[1]),
      xaxis:'x' + n, yaxis:'y' + n, mode:'lines', hoverinfo:'skip',
      name: seriesNames[i] + ' ' + p.kind + ' (SAM)',
      line: Object.assign({color:styles[i].color, width:p.width, dash:styles[i].dash}, p.spline ? {shape:'spline', smoothing:p.spline} : {})
    });
  });

  layout.annotations.push(ann(p.title, p.tpos[0], p.tpos[1]));
  layout.annotations.push(ann(p.xtitle, p.xtpos[0], p.xtpos[1], {font:{family:FONT, size:9.8, color:'#222'}}));
  layout.annotations.push(ann(p.ytitle, p.ytpos[0], p.ytpos[1], {textangle:-90, font:{family:FONT, size:9.8, color:'#222'}}));
  layout.annotations.push(ann('<b>' + p.label + '</b>', p.lpos[0], p.lpos[1],
    {xanchor:'left', font:{family:'Liberation Serif', size:25, color:'#000'}}));

  // legend box (matplotlib style)
  const L = p.leg;
  layout.shapes.push({type:'rect', xref:'paper', yref:'paper', x0:px(L.x0), x1:px(L.x1), y0:py(L.y0), y1:py(L.y1),
    line:{color:'#cccccc', width:1}, fillcolor:'rgba(255,255,255,0.85)', layer:'above'});
  seriesNames.forEach((nm, i) => {
    layout.shapes.push({type:'line', xref:'paper', yref:'paper', x0:px(L.s0), x1:px(L.s1), y0:py(L.rows[i]), y1:py(L.rows[i]),
      line:{color:styles[i].color, width:1.5, dash:styles[i].dash}, layer:'above'});
    layout.annotations.push(ann(nm + ' ' + p.kind + ' (SAM)', L.tx, L.rows[i],
      {xanchor:'left', font:{family:FONT, size:9.5, color:'#222'}}));
  });
});

Plotly.newPlot('chart', traces, layout, {staticPlot:true, displayModeBar:false});
</script>
</body></html>
